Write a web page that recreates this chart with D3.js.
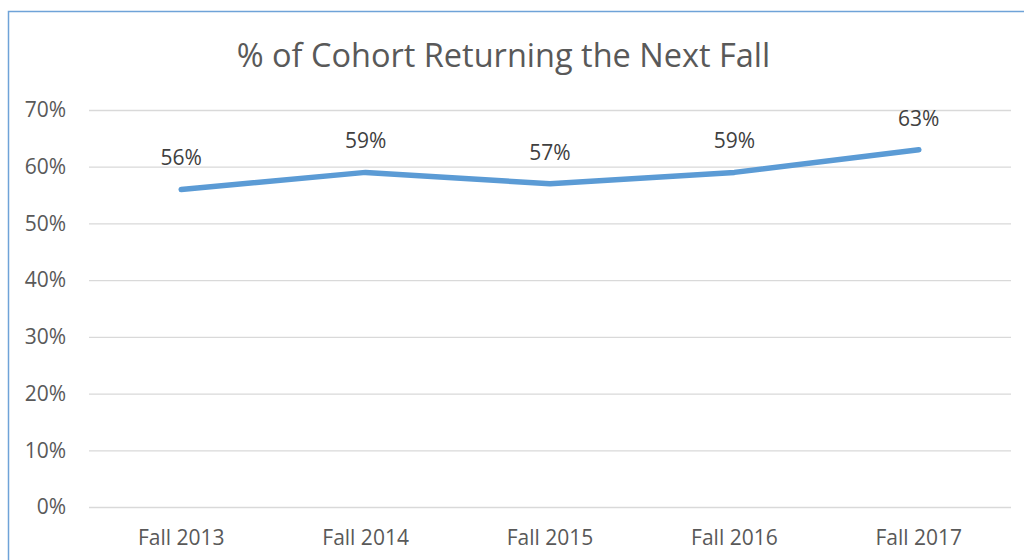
<!DOCTYPE html>
<html>
<head>
<meta charset="utf-8">
<script src="https://cdn.jsdelivr.net/npm/d3@7"></script>
<style>
  body { margin: 0; background: #fff; }
  svg text { font-family: "Open Sans", sans-serif; }
</style>
</head>
<body>
<div id="chart"></div>
<script>
// data
let categories = ['Fall 2013', 'Fall 2014', 'Fall 2015', 'Fall 2016', 'Fall 2017'];
let values = [0.56, 0.59, 0.57, 0.59, 0.63];
let yTicks = [0, 0.1, 0.2, 0.3, 0.4, 0.5, 0.6, 0.7];

let width = 1024, height = 560;
let margin = {top: 110, right: 13, bottom: 53, left: 89};
let w = width - margin.left - margin.right;
let h = height - margin.top - margin.bottom;

let svg = d3.select('#chart').append('svg')
    .attr('width', width).attr('height', height);

// frame (cut off at right/bottom like the reference)
svg.append('rect')
    .attr('x', 8.5).attr('y', 11.5)
    .attr('width', 1030).attr('height', 560)
    .attr('fill', 'none')
    .attr('stroke', '#6fa3d8').attr('stroke-width', 1.5);

svg.append('text')
    .attr('x', 503.5).attr('y', 67)
    .attr('text-anchor', 'middle')
    .attr('fill', '#595959')
    .style('font-size', '32.5px')
    .text('% of Cohort Returning the Next Fall');

let g = svg.append('g').attr('transform', 'translate(' + margin.left + ',' + margin.top + ')');

let x = d3.scaleBand().domain(categories).range([0, w]);
let y = d3.scaleLinear().domain([0, 0.7]).range([h, 0]);

// grid
g.append('g')
    .call(d3.axisLeft(y).tickValues(yTicks).tickSize(-w).tickFormat(d3.format('.0%')))
    .call(function(a) {
        a.select('.domain').remove();
        a.selectAll('line').attr('stroke', '#d9d9d9').attr('stroke-width', 1.3);
        a.selectAll('text').attr('x', -23).attr('fill', '#595959').style('font-size', '21px');
    });

// x axis
g.append('g')
    .attr('transform', 'translate(0,' + h + ')')
    .call(d3.axisBottom(x).tickSize(0))
    .call(function(a) {
        a.select('.domain').remove();
        a.selectAll('text').attr('y', 38).attr('dy', 0).attr('fill', '#595959').style('font-size', '21px');
    });

let line = d3.line()
    .x(function(d, i) { return x(categories[i]) + x.bandwidth() / 2; })
    .y(function(d) { return y(d); });

g.append('path')
    .datum(values)
    .attr('d', line)
    .attr('fill', 'none')
    .attr('stroke', '#5b9bd5')
    .attr('stroke-width', 5.5)
    .attr('stroke-linecap', 'round')
    .attr('stroke-linejoin', 'round');

g.selectAll('.lbl').data(values).enter().append('text')
    .attr('class', 'lbl')
    .attr('x', function(d, i) { return x(categories[i]) + x.bandwidth() / 2; })
    .attr('y', function(d) { return y(d) - 24; })
    .attr('text-anchor', 'middle')
    .attr('fill', '#404040')
    .style('font-size', '21px')
    .text(d3.format('.0%'));
</script>
</body>
</html>
